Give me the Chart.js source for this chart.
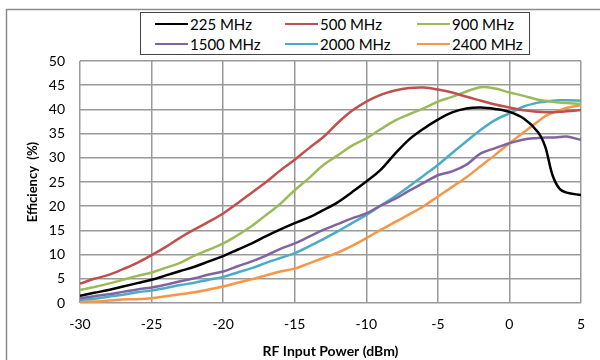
<!DOCTYPE html>
<html>
<head>
<meta charset="utf-8">
<script src="https://cdn.jsdelivr.net/npm/chart.js@4.4.1/dist/chart.umd.min.js"></script>
<style>
    html, body { margin: 0; padding: 0; background: #fff; }
    #wrap { position: relative; width: 600px; height: 360px; overflow: hidden; }
    #legend {
        position: absolute; left: 140px; top: 12px; width: 390px; height: 43px;
        box-sizing: border-box; border: 1.5px solid #444; background: #fff;
        font-family: Lato, "Liberation Sans", sans-serif; font-size: 15px; color: #000;
    }
    .item { position: absolute; display: flex; align-items: center; height: 18px; white-space: nowrap; }
    .swatch { width: 33px; height: 2.5px; margin-right: 2px; }
</style>
</head>
<body>
<div id="wrap">
    <canvas id="chart" width="600" height="360"></canvas>
    <div id="legend"></div>
</div>
<script>
// RF input power (dBm), shared by all series
const inputPower = [-30, -29, -28, -27, -26, -25, -24, -23, -22, -21, -20, -19, -18, -17, -16, -15,
    -14, -13, -12, -11, -10, -9, -8, -7, -6, -5, -4, -3, -2, -1, 0, 1, 2, 2.5, 3, 3.5, 4, 5];

const seriesLabels = ['225 MHz', '500 MHz', '900 MHz', '1500 MHz', '2000 MHz', '2400 MHz'];
const seriesColors = ['#000000', '#c0504d', '#9bbb59', '#8064a2', '#4bacc6', '#f79646'];

// efficiency (%)
const eff225 = [1.5, 2.1, 2.7, 3.4, 4.1, 4.8, 5.7, 6.6, 7.5, 8.6, 9.7, 11.0, 12.3, 13.8, 15.2, 16.5,
    17.7, 19.2, 20.8, 22.9, 25.1, 27.5, 30.8, 33.8, 36.0, 37.9, 39.4, 40.2, 40.4, 40.1, 39.5, 38.1, 35.3, 32.3, 26.5, 23.6, 22.8, 22.3];
const eff500 = [4.0, 5.0, 5.8, 7.0, 8.3, 9.9, 11.6, 13.5, 15.2, 16.8, 18.5, 20.6, 22.8, 25.0, 27.4, 29.6,
    32.0, 34.3, 37.2, 39.7, 41.6, 43.0, 43.9, 44.4, 44.5, 44.1, 43.5, 42.6, 41.8, 41.0, 40.4, 39.8, 39.5, 39.4, 39.4, 39.5, 39.6, 39.9];
const eff900 = [2.7, 3.3, 4.0, 4.8, 5.6, 6.3, 7.3, 8.3, 9.8, 11.0, 12.3, 14.0, 15.9, 18.2, 20.5, 23.3,
    25.8, 28.5, 30.5, 32.5, 34.0, 35.9, 37.7, 39.0, 40.2, 41.6, 42.6, 43.7, 44.6, 44.3, 43.5, 42.8, 42.0, 41.8, 41.6, 41.4, 41.3, 41.1];
const eff1500 = [1.0, 1.4, 1.8, 2.3, 2.8, 3.2, 3.8, 4.5, 5.1, 5.9, 6.5, 7.6, 8.6, 9.8, 11.2, 12.3,
    13.7, 15.1, 16.3, 17.5, 18.5, 20.1, 21.5, 23.2, 24.8, 26.4, 27.2, 28.6, 30.9, 32.0, 33.0, 33.8, 34.1, 34.2, 34.2, 34.3, 34.4, 33.7];
const eff2000 = [0.6, 0.9, 1.3, 1.7, 2.2, 2.6, 3.1, 3.7, 4.2, 4.8, 5.4, 6.3, 7.2, 8.3, 9.3, 10.3,
    11.7, 13.2, 14.8, 16.5, 18.2, 20.1, 22.0, 24.1, 26.3, 28.5, 31.0, 33.4, 35.8, 37.8, 39.2, 40.6, 41.4, 41.6, 41.8, 41.9, 41.9, 41.8];
const eff2400 = [0.2, 0.3, 0.5, 0.7, 0.8, 1.0, 1.4, 1.8, 2.2, 2.8, 3.4, 4.2, 4.9, 5.7, 6.5, 7.1,
    8.2, 9.3, 10.4, 11.8, 13.4, 15.1, 16.7, 18.3, 20.0, 22.0, 24.0, 26.0, 28.3, 30.6, 33.0, 35.3, 37.5, 38.6, 39.3, 39.8, 40.3, 40.9];

const allSeries = [eff225, eff500, eff900, eff1500, eff2000, eff2400];

const FONT = 'Lato, "Liberation Sans", sans-serif';

// outer chart frame, mostly running off the canvas like the screenshot
const framePlugin = {
    id: 'frame',
    beforeDraw(chart) {
        const ctx = chart.ctx;
        ctx.save();
        ctx.strokeStyle = '#8c8c8c';
        ctx.lineWidth = 1.5;
        ctx.strokeRect(6.5, 9.5, 700, 400);
        ctx.restore();
    }
};

const chart = new Chart(document.getElementById('chart'), {
    type: 'line',
    data: {
        datasets: allSeries.map((vals, i) => ({
            label: seriesLabels[i],
            data: vals.map((v, j) => ({ x: inputPower[j], y: v })),
            borderColor: seriesColors[i],
            backgroundColor: seriesColors[i],
            borderWidth: 2.5,
            pointRadius: 0,
            tension: 0.35,
            fill: false
        }))
    },
    options: {
        responsive: false,
        animation: false,
        layout: { padding: { top: 61, right: 19, left: 0, bottom: 0 } },
        plugins: {
            legend: { display: false },
            tooltip: { enabled: false }
        },
        scales: {
            x: {
                type: 'linear',
                min: -30,
                max: 5,
                afterFit(scale) { scale.height = 57; },
                ticks: { stepSize: 5, padding: 13, color: '#000', font: { family: FONT, size: 14 } },
                grid: { color: '#9a9a9a', lineWidth: 1.5, drawTicks: false },
                border: { display: false },
                title: {
                    display: true,
                    text: 'RF Input Power (dBm)',
                    color: '#000',
                    font: { family: FONT, size: 14, weight: 'bold' },
                    padding: { top: 0, bottom: 0 }
                }
            },
            y: {
                min: 0,
                max: 50,
                afterFit(scale) { scale.width = 80; },
                ticks: { stepSize: 5, padding: 15, color: '#000', font: { family: FONT, size: 14 } },
                grid: { color: '#9a9a9a', lineWidth: 1.5, drawTicks: false },
                border: { display: false },
                title: {
                    display: true,
                    text: 'Efficiency  (%)',
                    color: '#000',
                    font: { family: FONT, size: 13, weight: 'bold' },
                    padding: { top: 25, bottom: 0 }
                }
            }
        }
    },
    plugins: [framePlugin]
});

// legend box in two rows of three, columns lined up as in the original
const legendEl = document.getElementById('legend');
const colX = [14, 144, 276];
const rowY = [2, 22];
chart.data.datasets.forEach((ds, i) => {
    const item = document.createElement('div');
    item.className = 'item';
    item.style.left = colX[i % 3] + 'px';
    item.style.top = rowY[Math.floor(i / 3)] + 'px';
    item.innerHTML = `<span class="swatch" style="background:${ds.borderColor}"></span><span>${ds.label}</span>`;
    legendEl.appendChild(item);
});
</script>
</body>
</html>
